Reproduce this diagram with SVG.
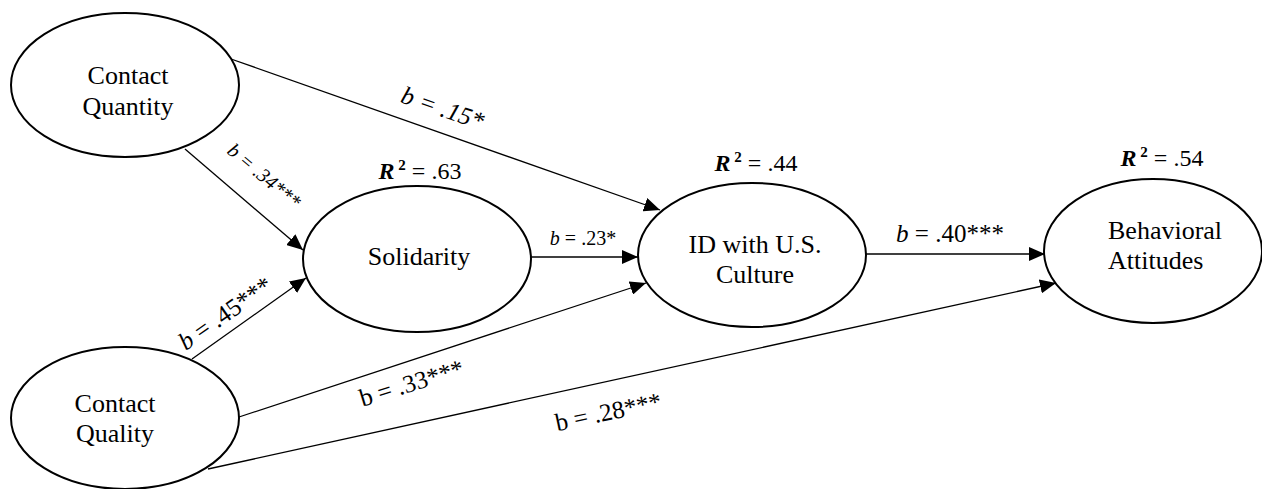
<svg xmlns="http://www.w3.org/2000/svg" width="1262" height="489" viewBox="0 0 1262 489">
<style>
.node ellipse{fill:#fff;stroke:#000;stroke-width:2}
.lbl{font-family:"Liberation Serif","Times New Roman",serif;fill:#000}
.nt{font-size:26px;text-anchor:middle}
.r2{font-size:24px;text-anchor:middle}
.e{font-size:25px;text-anchor:middle}
.es{font-size:20px;text-anchor:middle}
.conn line{stroke:#000;stroke-width:1.3;fill:none}
</style>
<defs>
<marker id="arr" viewBox="0 0 16 14" refX="16" refY="7" markerWidth="16" markerHeight="14" orient="auto" markerUnits="userSpaceOnUse">
<path d="M0,0 L16,7 L0,14 z" fill="#000"/>
</marker>
</defs>
<rect width="1262" height="489" fill="#fff"/>
<g id="connectors" class="conn">
<line x1="231" y1="59" x2="660" y2="210" marker-end="url(#arr)"/>
<line x1="185" y1="149" x2="303" y2="250" marker-end="url(#arr)"/>
<line x1="192" y1="359" x2="306" y2="278" marker-end="url(#arr)"/>
<line x1="531" y1="257" x2="638" y2="257" marker-end="url(#arr)"/>
<line x1="239" y1="417" x2="646" y2="283" marker-end="url(#arr)"/>
<line x1="866" y1="254" x2="1045" y2="254" marker-end="url(#arr)"/>
<line x1="208" y1="469" x2="1056" y2="283" marker-end="url(#arr)"/>
</g>
<g id="edge-labels" class="lbl">
<text class="e" transform="translate(440,116) rotate(19)" font-style="italic">b = .15*</text>
<text class="es" transform="translate(260,181) rotate(40)" font-style="italic">b = .34***</text>
<text class="e" transform="translate(230,320) rotate(-35)"><tspan font-style="italic">b</tspan> = .45***</text>
<text class="es" x="583" y="245"><tspan font-style="italic">b</tspan> = .23*</text>
<text class="e" x="950" y="242"><tspan font-style="italic">b</tspan> = .40***</text>
<text class="e" transform="translate(414,391) rotate(-17)">b = .33***</text>
<text class="e" transform="translate(610,420) rotate(-12)">b = .28***</text>
</g>
<g id="node-quantity" class="node">
<ellipse cx="125" cy="85" rx="114" ry="72"/>
<text class="lbl nt" x="128" y="84">Contact</text>
<text class="lbl nt" x="128" y="115">Quantity</text>
</g>
<g id="node-quality" class="node">
<ellipse cx="125" cy="418" rx="114" ry="71"/>
<text class="lbl nt" x="115" y="412">Contact</text>
<text class="lbl nt" x="115" y="442">Quality</text>
</g>
<g id="node-solidarity" class="node">
<ellipse cx="417" cy="259" rx="114" ry="73"/>
<text class="lbl nt" x="419" y="265">Solidarity</text>
<text class="lbl r2" x="420" y="179"><tspan font-weight="bold" font-style="italic">R</tspan><tspan font-weight="bold" font-size="15" dy="-9"> 2</tspan><tspan dy="9"> = .63</tspan></text>
</g>
<g id="node-id" class="node">
<ellipse cx="752" cy="255" rx="114" ry="72"/>
<text class="lbl nt" x="755" y="253">ID with U.S.</text>
<text class="lbl nt" x="755" y="283">Culture</text>
<text class="lbl r2" x="756" y="171"><tspan font-weight="bold" font-style="italic">R</tspan><tspan font-weight="bold" font-size="15" dy="-9"> 2</tspan><tspan dy="9"> = .44</tspan></text>
</g>
<g id="node-behavioral" class="node">
<ellipse cx="1153" cy="251" rx="109" ry="72"/>
<text class="lbl" font-size="26" x="1108" y="239">Behavioral</text>
<text class="lbl" font-size="26" x="1108" y="269">Attitudes</text>
<text class="lbl r2" x="1162" y="166"><tspan font-weight="bold" font-style="italic">R</tspan><tspan font-weight="bold" font-size="15" dy="-9"> 2</tspan><tspan dy="9"> = .54</tspan></text>
</g>
</svg>
